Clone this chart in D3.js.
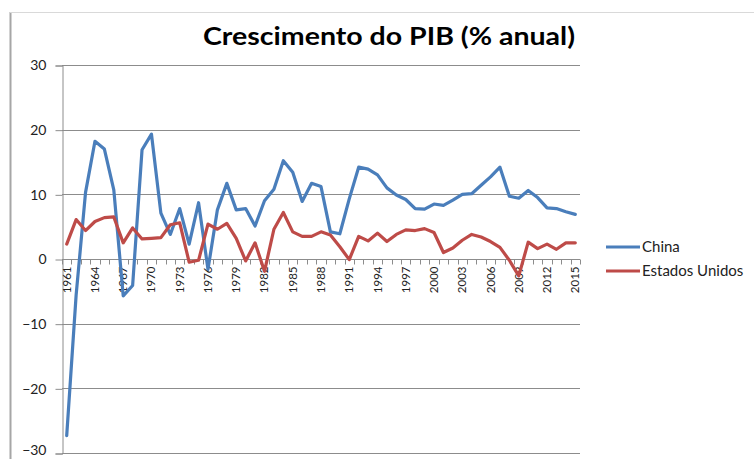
<!DOCTYPE html>
<html lang="pt">
<head>
  <meta charset="UTF-8" />
  <title>Crescimento do PIB (% anual)</title>
  <script src="https://d3js.org/d3.v7.min.js"></script>
  <style>
    body {
      margin: 0;
      padding: 0;
      background: #fff;
      font-family: Lato, "Liberation Sans", sans-serif;
    }
    svg { display: block; }
    .grid line { stroke: #8c8c8c; stroke-width: 1px; }
    .axis text { fill: #222; font-family: Lato, sans-serif; }
    .axis path, .axis line { stroke: #8c8c8c; }
    .series { fill: none; stroke-width: 3.2px; stroke-linejoin: round; stroke-linecap: round; }
  </style>
</head>
<body>
  <svg id="chart" width="754" height="459"></svg>

  <script>
    const years = d3.range(1961, 2016);
    const yTicks = [-30, -20, -10, 0, 10, 20, 30];
    const xTickLabels = d3.range(1961, 2016, 3);

    // GDP growth, % per year
    const china = [
      -27.3, -5.6, 10.3, 18.2, 17.0, 10.7, -5.7, -4.1, 16.9, 19.3,
      7.1, 3.8, 7.8, 2.3, 8.7, -1.6, 7.6, 11.7, 7.6, 7.8,
      5.1, 9.0, 10.8, 15.2, 13.4, 8.9, 11.7, 11.2, 4.2, 3.9,
      9.3, 14.2, 13.9, 13.0, 11.0, 9.9, 9.2, 7.8, 7.7, 8.5,
      8.3, 9.1, 10.0, 10.1, 11.4, 12.7, 14.2, 9.7, 9.4, 10.6,
      9.5, 7.9, 7.8, 7.3, 6.9
    ];
    const estadosUnidos = [
      2.3, 6.1, 4.4, 5.8, 6.4, 6.5, 2.5, 4.8, 3.1, 3.2,
      3.3, 5.3, 5.6, -0.5, -0.2, 5.4, 4.6, 5.5, 3.2, -0.3,
      2.5, -1.9, 4.6, 7.2, 4.2, 3.5, 3.5, 4.2, 3.7, 1.9,
      -0.1, 3.5, 2.8, 4.0, 2.7, 3.8, 4.5, 4.4, 4.7, 4.1,
      1.0, 1.7, 2.9, 3.8, 3.4, 2.7, 1.8, -0.2, -2.6, 2.6,
      1.6, 2.3, 1.5, 2.5, 2.5
    ];

    const seriesList = [
      { name: "China", values: china, color: "#4a7ebb" },
      { name: "Estados Unidos", values: estadosUnidos, color: "#be4b48" }
    ];

    const svg = d3.select("#chart");
    const plotLeft = 62, plotRight = 580, plotTop = 65, plotBottom = 453;

    const x = d3.scaleBand().domain(years).range([plotLeft, plotRight]).paddingInner(0).paddingOuter(0);
    const y = d3.scaleLinear().domain([-30, 30]).range([plotBottom, plotTop]);
    const cx = yr => x(yr) + x.bandwidth() / 2;

    // outer frame (cropped chart border)
    svg.append("line").attr("x1", 10.5).attr("x2", 10.5).attr("y1", 12).attr("y2", 459)
      .attr("stroke", "#a6a6a6").attr("stroke-width", 2);
    svg.append("line").attr("x1", 10).attr("x2", 754).attr("y1", 12.5).attr("y2", 12.5)
      .attr("stroke", "#d9d9d9").attr("stroke-width", 1);

    // title (the source is stretched a little wider than the font)
    svg.append("text")
      .attr("x", 203).attr("y", 45)
      .attr("textLength", 372)
      .attr("lengthAdjust", "spacingAndGlyphs")
      .style("font-family", "Lato, sans-serif")
      .style("font-weight", "bold")
      .style("font-size", "25px")
      .style("fill", "#000")
      .text("Crescimento do PIB (% anual)");

    // horizontal gridlines
    svg.append("g").attr("class", "grid")
      .selectAll("line").data(yTicks).enter().append("line")
      .attr("x1", plotLeft).attr("x2", plotRight)
      .attr("y1", d => Math.round(y(d)) + 0.5).attr("y2", d => Math.round(y(d)) + 0.5);

    // y axis
    const yAxis = svg.append("g").attr("class", "axis")
      .attr("transform", `translate(${plotLeft + 0.5},0.5)`)
      .call(d3.axisLeft(y).tickValues(yTicks).tickSize(7).tickPadding(9).tickFormat(d3.format("d")));
    yAxis.selectAll("text").style("font-size", "14px").attr("dy", "0.3em");
    // bottom label sits on the window edge, lift it a touch so it is not clipped
    yAxis.selectAll("text").filter(d => d === -30).attr("dy", "0.1em");

    // x axis at zero with ticks on category boundaries
    const y0 = Math.round(y(0)) + 0.5;
    const boundaries = years.map(yr => x(yr)).concat([plotRight]);
    svg.append("g").attr("class", "axis")
      .selectAll("line").data(boundaries).enter().append("line")
      .attr("x1", d => Math.round(d) + 0.5).attr("x2", d => Math.round(d) + 0.5)
      .attr("y1", y0).attr("y2", y0 + 5);

    svg.append("g").attr("class", "axis")
      .selectAll("text").data(xTickLabels).enter().append("text")
      .attr("transform", d => `translate(${cx(d) + 4},${y0 + 7}) rotate(-90)`)
      .attr("text-anchor", "end")
      .style("font-size", "11.5px")
      .text(d => d);

    // lines
    const line = d3.line().x((d, i) => cx(years[i])).y(d => y(d));
    svg.selectAll(".series").data(seriesList).enter().append("path")
      .attr("class", "series")
      .attr("stroke", d => d.color)
      .attr("d", d => line(d.values));

    // legend
    const legend = svg.append("g").selectAll("g").data(seriesList).enter().append("g")
      .attr("transform", (d, i) => `translate(606,${247 + i * 24})`);
    legend.append("line").attr("x1", 0).attr("x2", 34).attr("y1", 0).attr("y2", 0)
      .attr("stroke", d => d.color).attr("stroke-width", 3);
    legend.append("text").attr("x", 36).attr("y", 5)
      .style("font-family", "Lato, sans-serif").style("font-size", "15px").style("fill", "#222")
      .text(d => d.name);
  </script>
</body>
</html>
